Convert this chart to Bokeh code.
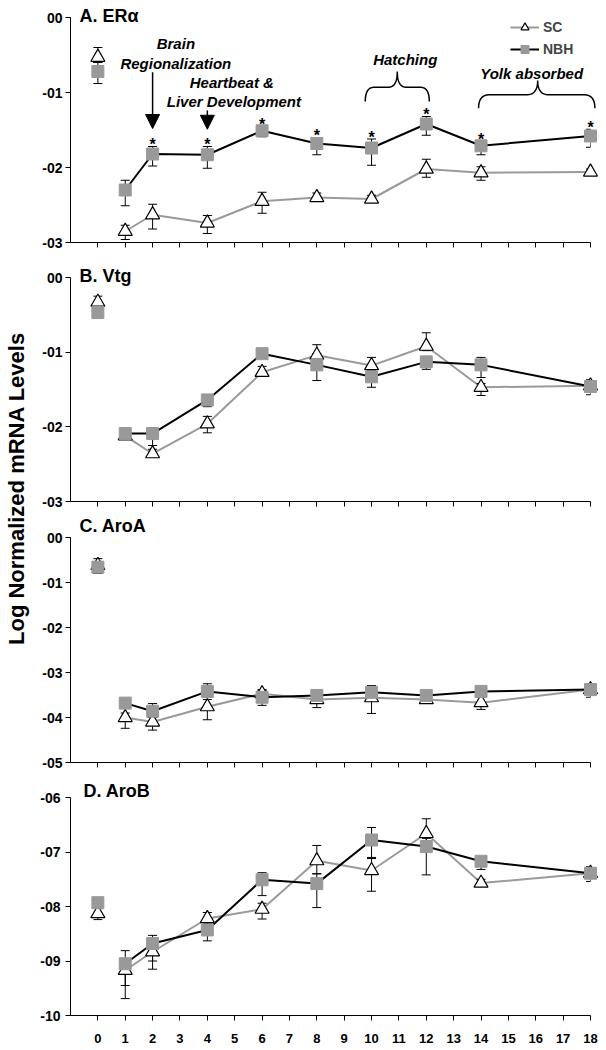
import numpy as np
from bokeh.plotting import figure
from bokeh.models import (Range1d, FixedTicker, Whisker, TeeHead, ColumnDataSource,
                          Legend, LegendItem, Arrow, NormalHead, CustomJSTickFormatter)
from bokeh.layouts import row, column
from bokeh.embed import file_html
from bokeh.resources import INLINE
from bokeh.core.properties import value

# ---------------- data ----------------
days = [0, 1, 2, 4, 6, 8, 10, 12, 14, 18]
x_ticks = list(range(0, 19))
x_tick_labels = [str(d) for d in x_ticks]

# A. ERalpha
sc_A = [-0.53, -2.85, -2.63, -2.74, -2.45, -2.40, -2.42, -2.02, -2.07, -2.06]
sc_A_hi = [-0.40, -2.77, -2.49, -2.64, -2.33, -2.34, -2.37, -1.89, -1.99, -2.02]
sc_A_lo = [-0.60, -2.96, -2.82, -2.88, -2.61, -2.44, -2.45, -2.13, -2.17, -2.09]
nbh_A = [-0.72, -2.30, -1.82, -1.83, -1.51, -1.68, -1.74, -1.42, -1.71, -1.58]
nbh_A_hi = [-0.60, -2.17, -1.72, -1.72, -1.45, -1.60, -1.62, -1.32, -1.65, -1.49]
nbh_A_lo = [-0.88, -2.51, -1.98, -2.01, -1.59, -1.83, -1.97, -1.57, -1.83, -1.73]
sig_A = [False, False, True, True, True, True, True, True, True, True]

# B. Vtg
sc_B = [-0.33, -2.12, -2.36, -1.96, -1.27, -1.04, -1.18, -0.92, -1.47, -1.45]
sc_B_hi = [-0.25, -2.08, -2.30, -1.86, -1.19, -0.90, -1.07, -0.74, -1.42, -1.40]
sc_B_lo = [-0.38, -2.16, -2.40, -2.08, -1.32, -1.10, -1.24, -0.98, -1.58, -1.50]
nbh_B = [-0.47, -2.09, -2.09, -1.64, -1.02, -1.17, -1.33, -1.13, -1.17, -1.46]
nbh_B_hi = [-0.42, -2.05, -2.01, -1.60, -0.99, -1.02, -1.25, -1.08, -1.07, -1.37]
nbh_B_lo = [-0.53, -2.13, -2.25, -1.73, -1.05, -1.38, -1.47, -1.23, -1.34, -1.57]

# C. AroA
sc_C = [-0.62, -4.00, -4.10, -3.76, -3.47, -3.60, -3.56, -3.60, -3.67, -3.38]
sc_C_hi = [-0.55, -3.90, -4.00, -3.60, -3.40, -3.52, -3.45, -3.55, -3.55, -3.33]
sc_C_lo = [-0.70, -4.24, -4.28, -4.05, -3.55, -3.78, -3.91, -3.66, -3.82, -3.43]
nbh_C = [-0.66, -3.68, -3.86, -3.42, -3.55, -3.51, -3.44, -3.51, -3.42, -3.38]
nbh_C_hi = [-0.47, -3.60, -3.69, -3.25, -3.38, -3.38, -3.29, -3.45, -3.38, -3.25]
nbh_C_lo = [-0.80, -3.76, -3.98, -3.55, -3.73, -3.60, -3.55, -3.58, -3.48, -3.55]

# D. AroB
sc_D = [-8.13, -9.17, -8.83, -8.22, -8.05, -7.16, -7.34, -6.66, -7.57, -7.39]
sc_D_hi = [-8.02, -9.05, -8.72, -8.11, -7.94, -6.88, -7.10, -6.39, -7.50, -7.33]
sc_D_lo = [-8.24, -9.69, -9.15, -8.32, -8.23, -7.40, -7.72, -6.90, -7.62, -7.45]
nbh_D = [-7.93, -9.05, -8.68, -8.43, -7.51, -7.58, -6.78, -6.90, -7.17, -7.39]
nbh_D_hi = [-7.85, -8.81, -8.53, -8.30, -7.38, -7.40, -6.55, -6.75, -7.10, -7.27]
nbh_D_lo = [-8.00, -9.45, -9.00, -8.63, -7.80, -8.02, -7.12, -7.42, -7.32, -7.54]

yticks_A = [-3, -2, -1, 0]
ylabels_A = ["-03", "-02", "-01", "00"]
yticks_C = [-5, -4, -3, -2, -1, 0]
ylabels_C = ["-05", "-04", "-03", "-02", "-01", "00"]
yticks_D = [-10, -9, -8, -7, -6]
ylabels_D = ["-10", "-09", "-08", "-07", "-06"]

FONT = "Liberation Sans"
SC_LINE = "#9a9a9a"
NBH_FILL = "#999999"

FMT_CODE = """
let best = 0;
for (let i = 0; i < tv.length; i++) {
  if (Math.abs(tv[i] - tick) < Math.abs(tv[best] - tick)) { best = i; }
}
return lv[best];
"""


def make_panel(title, sc, sc_hi, sc_lo, nbh, nbh_hi, nbh_lo, yr, yticks, ylabels,
               height, top, bottom, left, show_x, title_dx, title_dy, ystand):
    p = figure(width=568, height=height, x_range=Range1d(-1, 18), y_range=Range1d(*yr),
               output_backend="svg", toolbar_location=None,
               min_border_top=top, min_border_bottom=bottom,
               min_border_left=left, min_border_right=8)
    p.grid.visible = False
    p.outline_line_color = None
    p.background_fill_color = "white"

    p.xaxis.ticker = FixedTicker(ticks=x_ticks)
    p.xaxis.formatter = CustomJSTickFormatter(args=dict(tv=x_ticks, lv=x_tick_labels),
                                              code=FMT_CODE)
    p.yaxis.ticker = FixedTicker(ticks=yticks)
    p.yaxis.formatter = CustomJSTickFormatter(args=dict(tv=yticks, lv=ylabels),
                                              code=FMT_CODE)
    for ax in (p.xaxis, p.yaxis):
        ax.axis_line_color = "black"
        ax.axis_line_width = 1
        ax.major_tick_line_color = "black"
        ax.major_tick_out = 5
        ax.major_tick_in = 0
        ax.minor_tick_line_color = None
        ax.major_label_text_font = FONT
        ax.major_label_text_font_style = "bold"
        ax.major_label_text_color = "black"
    p.yaxis.major_label_text_font_size = "14px"
    p.yaxis.major_label_standoff = ystand
    if show_x:
        p.xaxis.major_label_text_font_size = "13px"
        p.xaxis.major_label_standoff = 13
    else:
        p.xaxis.major_label_text_font_size = "0px"
        p.xaxis.major_label_standoff = 0

    scl = p.line(days[1:], sc[1:], line_color=SC_LINE, line_width=2)
    nbl = p.line(days[1:], nbh[1:], line_color="black", line_width=2)

    for hi, lo in ((sc_hi, sc_lo), (nbh_hi, nbh_lo)):
        src = ColumnDataSource(dict(base=days, upper=hi, lower=lo))
        w = Whisker(base="base", upper="upper", lower="lower", source=src,
                    level="guide", line_color="black", line_width=1,
                    upper_head=TeeHead(size=9, line_color="black", line_width=1),
                    lower_head=TeeHead(size=9, line_color="black", line_width=1))
        p.add_layout(w)

    scm = p.scatter(days, sc, marker="triangle", size=14, fill_color="white",
                    line_color="black", line_width=1.2, level="annotation")
    nbm = p.scatter(days, nbh, marker="square", size=12, fill_color=NBH_FILL,
                    line_color=NBH_FILL, level="annotation")

    p.text([-1], [yr[1]], text=[title], x_offset=title_dx, y_offset=title_dy,
           text_font=value(FONT), text_font_style="bold", text_font_size="18px",
           text_baseline="middle", text_align="left", text_color="black",
           level="overlay")
    return p, (scl, scm), (nbl, nbm)


def brace(p, x0, x1, xm, y_tip, y_arm, y_end, r):
    t = np.linspace(0, 1, 20)[:, None]

    def quad(a, c, b):
        a, c, b = np.array(a), np.array(c), np.array(b)
        return (1 - t) ** 2 * a + 2 * (1 - t) * t * c + t ** 2 * b

    segs = [
        quad((x0, y_end), (x0, y_arm), (x0 + r, y_arm)),
        quad((xm - r, y_arm), (xm, y_arm), (xm, y_tip)),
        quad((xm, y_tip), (xm, y_arm), (xm + r, y_arm)),
        quad((x1 - r, y_arm), (x1, y_arm), (x1, y_end)),
    ]
    pts = np.vstack(segs)
    p.line(pts[:, 0], pts[:, 1], line_color="black", line_width=1.5, level="annotation")


pA, scA, nbA = make_panel("A. ERα", sc_A, sc_A_hi, sc_A_lo, nbh_A, nbh_A_hi, nbh_A_lo,
                          (-3, 0), yticks_A, ylabels_A, 264, 17, 22, 40, False, 9, -2, 3)
pB, _, _ = make_panel("B. Vtg", sc_B, sc_B_hi, sc_B_lo, nbh_B, nbh_B_hi, nbh_B_lo,
                      (-3, 0), yticks_A, ylabels_A, 250, 13, 13, 40, False, 9, -2, 3)
pC, _, _ = make_panel("C. AroA", sc_C, sc_C_hi, sc_C_lo, nbh_C, nbh_C_hi, nbh_C_lo,
                      (-5, 0), yticks_C, ylabels_C, 266, 23, 18, 40, False, 9, -12, 3)
pD, _, _ = make_panel("D. AroB", sc_D, sc_D_hi, sc_D_lo, nbh_D, nbh_D_hi, nbh_D_lo,
                      (-10, -6), yticks_D, ylabels_D, 268, 17, 33, 36, True, 13, -7, 5)

# significance asterisks (panel A)
ast_x = [d for d, s in zip(days, sig_A) if s]
ast_y = [v for v, s in zip(nbh_A_hi, sig_A) if s]
pA.text(ast_x, ast_y, text=["*"] * len(ast_x), text_align="center",
        text_baseline="alphabetic", text_font=value(FONT), text_font_style="bold",
        text_font_size="16px", text_color="black", y_offset=-2, level="overlay")

# developmental annotations (panel A)
ann_x = [2.85, 2.85, 4.97, 4.97, 11.23, 15.85]
ann_y = [-0.35, -0.61, -0.87, -1.12, -0.56, -0.75]
ann_text = ["Brain", "Regionalization", "Heartbeat  &", "Liver Development",
            "Hatching", "Yolk absorbed"]
pA.text(ann_x, ann_y, text=ann_text, text_font=value(FONT),
        text_font_style="bold italic", text_font_size="15px", text_align="center",
        text_baseline="middle", text_color="black", level="overlay")

pA.add_layout(Arrow(end=NormalHead(size=14, fill_color="black", line_color="black"),
                    x_start=2, y_start=-0.73, x_end=2, y_end=-1.48,
                    line_color="black", line_width=1.5))
pA.add_layout(Arrow(end=NormalHead(size=14, fill_color="black", line_color="black"),
                    x_start=4, y_start=-1.24, x_end=4, y_end=-1.49,
                    line_color="black", line_width=1.5))

brace(pA, 9.77, 12.11, 10.94, -0.72, -0.93, -1.12, 0.33)
brace(pA, 13.91, 18.16, 16.07, -0.84, -1.03, -1.21, 0.4)

legend = Legend(items=[LegendItem(label="SC", renderers=list(scA)),
                       LegendItem(label="NBH", renderers=list(nbA))],
                location=(440, 183), orientation="vertical",
                label_text_font=FONT, label_text_font_style="bold",
                label_text_font_size="14px", label_height=20, glyph_height=20,
                glyph_width=29, label_standoff=4, spacing=2, padding=0, margin=0,
                background_fill_alpha=0, border_line_color=None)
pA.add_layout(legend)

# shared y-axis title
pL = figure(width=30, height=1048, x_range=Range1d(0, 30), y_range=Range1d(0, 1048),
            output_backend="svg", toolbar_location=None, min_border=0,
            x_axis_location=None, y_axis_location=None)
pL.grid.visible = False
pL.outline_line_color = None
pL.text([16], [560], text=["Log Normalized mRNA Levels"], angle=np.pi / 2,
        text_align="center", text_baseline="middle", text_font=value(FONT),
        text_font_style="bold", text_font_size="22px", text_color="black",
        level="annotation")

layout = row(pL, column(pA, pB, pC, pD))
open("out.html", "w").write(file_html(layout, INLINE))
